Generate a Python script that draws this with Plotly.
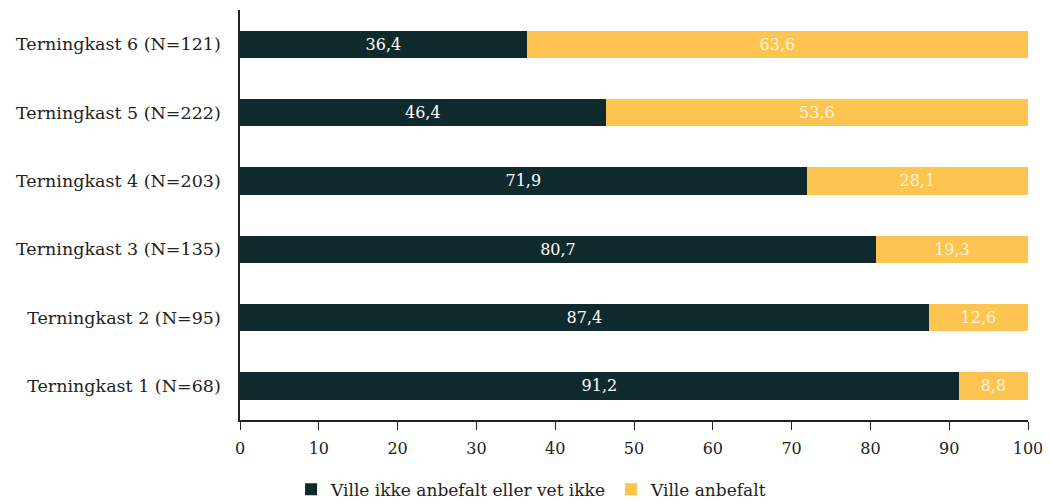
import plotly.graph_objects as go

categories = ["Terningkast 1 (N=68)", "Terningkast 2 (N=95)", "Terningkast 3 (N=135)",
              "Terningkast 4 (N=203)", "Terningkast 5 (N=222)", "Terningkast 6 (N=121)"]
ikke = [91.2, 87.4, 80.7, 71.9, 46.4, 36.4]
anbefalt = [8.8, 12.6, 19.3, 28.1, 53.6, 63.6]
tickvals = [0, 10, 20, 30, 40, 50, 60, 70, 80, 90, 100]

def fmt(v):
    return f"{v:.1f}".replace(".", ",")

FONT = "DejaVu Serif"
fig = go.Figure()
fig.add_trace(go.Bar(
    y=categories, x=ikke, orientation="h", name="Ville ikke anbefalt eller vet ikke",
    marker=dict(color="#0f2a2c", line=dict(width=0)),
    text=[fmt(v) for v in ikke], textposition="inside", insidetextanchor="middle",
    textfont=dict(color="white", size=16, family=FONT), width=0.4,
))
fig.add_trace(go.Bar(
    y=categories, x=anbefalt, orientation="h", name="Ville anbefalt",
    marker=dict(color="#fdc44f", line=dict(width=0)),
    text=[fmt(v) for v in anbefalt], textposition="inside", insidetextanchor="middle",
    textfont=dict(color="#fff3dc", size=16, family=FONT), width=0.4,
))
# page body has an 8px margin, so the figure is sized to the visible area
fig.update_layout(
    barmode="stack", width=1042, height=494,
    margin=dict(l=232, r=22, t=2, b=82, autoexpand=False),
    plot_bgcolor="white", paper_bgcolor="white",
    font=dict(family=FONT, size=17, color="#222"),
    uniformtext=dict(mode="show", minsize=10),
    legend=dict(orientation="h", x=0.37, xanchor="center", y=-0.17, yanchor="middle",
                font=dict(size=17), traceorder="normal"),
    showlegend=True,
)
fig.update_xaxes(range=[0, 100], tickvals=tickvals, showgrid=False, showline=True,
                 linecolor="#222", linewidth=1.5, ticks="outside", ticklen=8,
                 tickcolor="#222", zeroline=False, tickfont=dict(size=16),
                 automargin=False, ticklabelstandoff=5)
fig.update_yaxes(showgrid=False, showline=True, linecolor="#222", linewidth=1.5,
                 ticks="", range=[-0.5, 5.5], tickfont=dict(size=17.5),
                 automargin=False, ticklabelstandoff=14)
fig.write_html("out.html")
